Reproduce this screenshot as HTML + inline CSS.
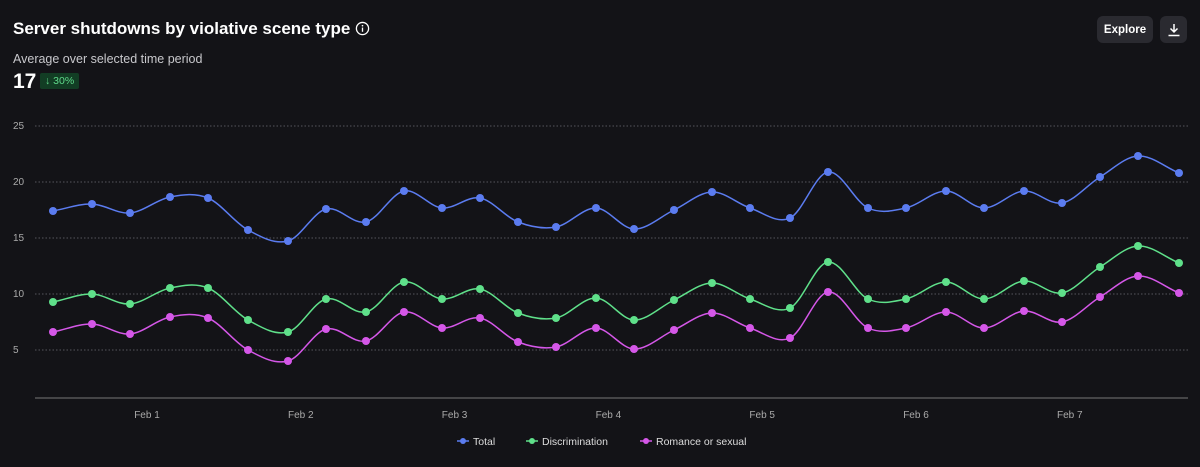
<!DOCTYPE html>
<html><head><meta charset="utf-8"><style>
body{margin:0;width:1200px;height:467px;background:#131317;overflow:hidden;font-family:"Liberation Sans",sans-serif;color:#fff;position:relative}
.t{position:absolute;left:13px;top:19px;font-size:17px;font-weight:bold}
.s{position:absolute;left:13px;top:52px;font-size:12.5px;color:#c8c8cc}
.n{position:absolute;left:13px;top:70px;font-size:21px;font-weight:bold}
.b{position:absolute;left:40px;top:73px;background:#123d24;color:#5fd98a;font-size:10.5px;padding:2px 5px;border-radius:2px}
.btn{position:absolute;top:16px;height:27px;background:#2a2a30;border-radius:6px;font-size:11.5px;font-weight:bold;display:flex;align-items:center;justify-content:center}
</style></head><body>
<div class="t">Server shutdowns by violative scene type <svg width="15" height="15" viewBox="0 0 16 16" style="vertical-align:-2px"><circle cx="8" cy="8" r="6.5" fill="none" stroke="#fff" stroke-width="1.4"/><rect x="7.3" y="7" width="1.4" height="4.5" fill="#fff"/><circle cx="8" cy="5" r="0.9" fill="#fff"/></svg></div>
<div class="s">Average over selected time period</div>
<div class="n">17</div>
<div class="b">↓ 30%</div>
<div class="btn" style="left:1097px;width:56px">Explore</div>
<div class="btn" style="left:1160px;width:27px"><svg width="14" height="14" viewBox="0 0 14 14"><path d="M7 1v8M3.5 5.5L7 9l3.5-3.5M1.5 12.5h11" stroke="#fff" stroke-width="1.5" fill="none"/></svg></div>
<svg id="c" width="1200" height="467" style="position:absolute;left:0;top:0" font-family="Liberation Sans" font-size="10" fill="#aaa"></svg>
<script>
const s=document.getElementById('c');let h='';
[[25,126],[20,182],[15,238],[10,294],[5,350]].forEach(([v,y])=>{h+=`<text x="13" y="${y+3}">${v}</text><line x1="35" x2="1188" y1="${y}" y2="${y}" stroke="#55555c" stroke-dasharray="1.5,2"/>`});
h+=`<line x1="35" x2="1188" y1="398" y2="398" stroke="#777"/>`;
['Feb 1','Feb 2','Feb 3','Feb 4','Feb 5','Feb 6','Feb 7'].forEach((l,i)=>{h+=`<text x="${147+i*153.8}" y="418" text-anchor="middle">${l}</text>`});
const xs=[53,92,130,170,208,248,288,326,366,404,442,480,518,556,596,634,674,712,750,790,828,868,906,946,984,1024,1062,1100,1138,1179];
const B=[211,204,213,197,198,230,241,209,222,191,208,198,222,227,208,229,210,192,208,218,172,208,208,191,208,191,203,177,156,173];
const G=[302,294,304,288,288,320,332,299,312,282,299,289,313,318,298,320,300,283,299,308,262,299,299,282,299,281,293,267,246,263];
const P=[332,324,334,317,318,350,361,329,341,312,328,318,342,347,328,349,330,313,328,338,292,328,328,312,328,311,322,297,276,293];
function path(ys){let d=`M${xs[0]},${ys[0]}`;for(let i=0;i<xs.length-1;i++){const x0=xs[i],x1=xs[i+1],dx=(x1-x0)/3;const m0=i>0?(ys[i+1]-ys[i-1])/(xs[i+1]-xs[i-1]):(ys[1]-ys[0])/(x1-x0);const m1=i<xs.length-2?(ys[i+2]-ys[i])/(xs[i+2]-xs[i]):(ys[i+1]-ys[i])/(x1-x0);d+=` C${x0+dx},${ys[i]+m0*dx} ${x1-dx},${ys[i+1]-m1*dx} ${x1},${ys[i+1]}`}return d}
[[B,'#5b7cf0'],[G,'#5fe08a'],[P,'#d557e8']].forEach(([ys,c])=>{h+=`<path d="${path(ys)}" fill="none" stroke="${c}" stroke-width="1.5"/>`;ys.forEach((y,i)=>{h+=`<circle cx="${xs[i]}" cy="${y}" r="4" fill="${c}"/>`})});
[[463,'#5b7cf0','Total'],[532,'#5fe08a','Discrimination'],[646,'#d557e8','Romance or sexual']].forEach(([x,c,t])=>{h+=`<line x1="${x-6}" x2="${x+6}" y1="441" y2="441" stroke="${c}" stroke-width="1.5"/><circle cx="${x}" cy="441" r="3" fill="${c}"/><text x="${x+10}" y="445" fill="#ddd" font-size="10.5">${t}</text>`});
s.innerHTML=h;
</script>
</body></html>
